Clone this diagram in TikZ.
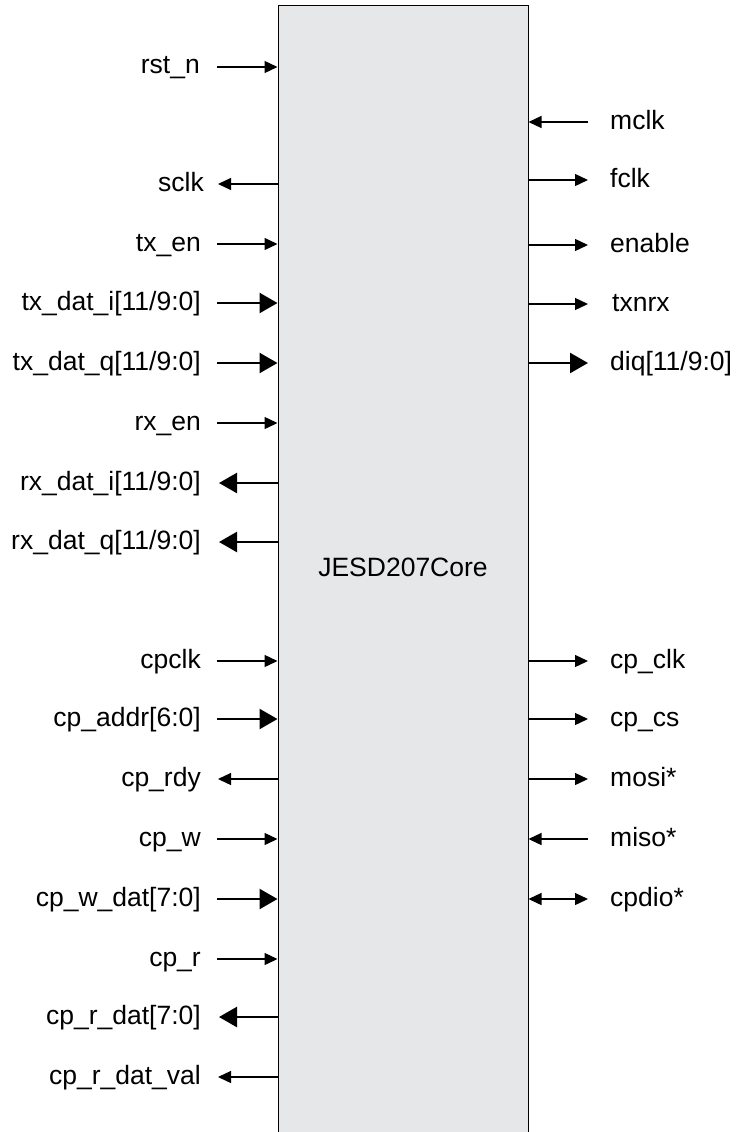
\documentclass[tikz,border=0pt]{standalone}
\usepackage{fontspec}
\setmainfont{Liberation Sans}
\usetikzlibrary{arrows.meta,positioning}
\definecolor{corefill}{RGB}{230,231,233}

\begin{document}
\begin{tikzpicture}[x=1pt,y=-1pt,font=\fontsize{26.5}{32}\selectfont,
    core/.style={draw,fill=corefill,line width=1pt,minimum width=250pt,minimum height=1150pt,inner sep=0pt},
    lpin/.style={anchor=east,inner sep=0pt,text height=18pt,text depth=4pt},
    rpin/.style={anchor=west,inner sep=0pt,text height=18pt,text depth=4pt},
    sig/.style={line width=1.3pt,-{Triangle[length=13pt,width=12pt]}},
    bus/.style={line width=2.5pt,-{Triangle[length=18pt,width=20pt]}},
    bidir/.style={line width=1.3pt,{Triangle[length=13pt,width=12pt]}-{Triangle[length=13pt,width=12pt]}}]

                \useasboundingbox (0,0) rectangle (736,1132);
                \clip (0,0) rectangle (736,1132);

                \node[core] (core) at (403,581) {};
                \node (title) at (403,567) {JESD207Core};

                % left side
                \node[lpin] (rstn) at (200,67) {rst\_n};
                \node[lpin] (sclk) at (204,184) {sclk};
                \node[lpin] (txen) at (201,244) {tx\_en};
                \node[lpin] (txdati) at (201,303) {tx\_dat\_i[11/9:0]};
                \node[lpin] (txdatq) at (201,363) {tx\_dat\_q[11/9:0]};
                \node[lpin] (rxen) at (201,423) {rx\_en};
                \node[lpin] (rxdati) at (201,483) {rx\_dat\_i[11/9:0]};
                \node[lpin] (rxdatq) at (201,542) {rx\_dat\_q[11/9:0]};
                \node[lpin] (cpclk) at (201,661) {cpclk};
                \node[lpin] (cpaddr) at (201,719) {cp\_addr[6:0]};
                \node[lpin] (cprdy) at (201,779) {cp\_rdy};
                \node[lpin] (cpw) at (201,839) {cp\_w};
                \node[lpin] (cpwdat) at (201,899) {cp\_w\_dat[7:0]};
                \node[lpin] (cpr) at (201,959) {cp\_r};
                \node[lpin] (cprdat) at (201,1017) {cp\_r\_dat[7:0]};
                \node[lpin] (cprdatval) at (201,1077) {cp\_r\_dat\_val};

                % right side
                \node[rpin] (mclk) at (610,122) {mclk};
                \node[rpin] (fclk) at (610,180) {fclk};
                \node[rpin] (enable) at (610,245) {enable};
                \node[rpin] (txnrx) at (612,304) {txnrx};
                \node[rpin] (diq) at (610,363) {diq[11/9:0]};
                \node[rpin] (cpclko) at (610,661) {cp\_clk};
                \node[rpin] (cpcs) at (610,719) {cp\_cs};
                \node[rpin] (mosi) at (610,779) {mosi*};
                \node[rpin] (miso) at (610,839) {miso*};
                \node[rpin] (cpdio) at (610,899) {cpdio*};

                \draw[sig] ([xshift=17pt]rstn.east) to (rstn -| core.west);
                \draw[sig] (sclk -| core.west) to ([xshift=14pt]sclk.east);
                \draw[sig] ([xshift=16pt]txen.east) to (txen -| core.west);
                \draw[bus] ([xshift=16pt]txdati.east) to (txdati -| core.west);
                \draw[bus] ([xshift=16pt]txdatq.east) to (txdatq -| core.west);
                \draw[sig] ([xshift=16pt]rxen.east) to (rxen -| core.west);
                \draw[bus] (rxdati -| core.west) to ([xshift=18pt]rxdati.east);
                \draw[bus] (rxdatq -| core.west) to ([xshift=18pt]rxdatq.east);
                \draw[sig] ([xshift=16pt]cpclk.east) to (cpclk -| core.west);
                \draw[bus] ([xshift=16pt]cpaddr.east) to (cpaddr -| core.west);
                \draw[sig] (cprdy -| core.west) to ([xshift=17pt]cprdy.east);
                \draw[sig] ([xshift=16pt]cpw.east) to (cpw -| core.west);
                \draw[bus] ([xshift=16pt]cpwdat.east) to (cpwdat -| core.west);
                \draw[sig] ([xshift=16pt]cpr.east) to (cpr -| core.west);
                \draw[bus] (cprdat -| core.west) to ([xshift=18pt]cprdat.east);
                \draw[sig] (cprdatval -| core.west) to ([xshift=17pt]cprdatval.east);

                \draw[sig] ([xshift=-22pt]mclk.west) to (mclk -| core.east);
                \draw[sig] (fclk -| core.east) to ([xshift=-22pt]fclk.west);
                \draw[sig] (enable -| core.east) to ([xshift=-22pt]enable.west);
                \draw[sig] (txnrx -| core.east) to ([xshift=-24pt]txnrx.west);
                \draw[bus] (diq -| core.east) to ([xshift=-22pt]diq.west);
                \draw[sig] (cpclko -| core.east) to ([xshift=-22pt]cpclko.west);
                \draw[sig] (cpcs -| core.east) to ([xshift=-22pt]cpcs.west);
                \draw[sig] (mosi -| core.east) to ([xshift=-22pt]mosi.west);
                \draw[sig] ([xshift=-22pt]miso.west) to (miso -| core.east);
                \draw[bidir] (cpdio -| core.east) to ([xshift=-22pt]cpdio.west);

            \end{tikzpicture}
\end{document}
